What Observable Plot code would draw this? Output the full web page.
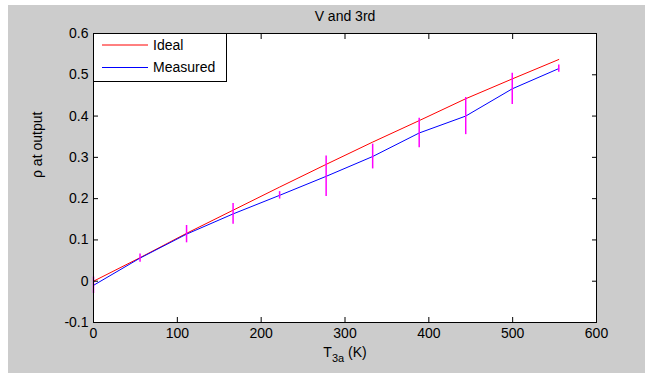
<!DOCTYPE html>
<html><head><meta charset="utf-8">
<script src="https://cdn.jsdelivr.net/npm/d3@7"></script>
<script src="https://cdn.jsdelivr.net/npm/@observablehq/plot@0.6"></script>
<style>
body{margin:0;background:#fff;}
#wrap{position:absolute;left:8px;top:5px;width:637px;height:368px;background:#cccccc;}
#legend{position:absolute;left:85px;top:28px;}
</style>
</head><body><div id="wrap"></div>
<script>
const T = [0, 55.5, 111, 166.5, 222, 277.5, 333, 388.5, 444, 499.5, 555];
const ideal = [0.0, 0.057, 0.116, 0.172, 0.228, 0.283, 0.337, 0.389, 0.442, 0.490, 0.537];
const measured = [-0.010, 0.056, 0.114, 0.163, 0.208, 0.254, 0.302, 0.359, 0.400, 0.466, 0.515];
const err = [0.020, 0.010, 0.021, 0.025, 0.009, 0.049, 0.030, 0.036, 0.045, 0.038, 0.009];
const xTicks = [0, 100, 200, 300, 400, 500, 600];
const yTicks = [-0.1, 0, 0.1, 0.2, 0.3, 0.4, 0.5, 0.6];
const title = "V and 3rd";
const xLabelMain = "T", xLabelSub = "3a", xLabelRest = " (K)";
const yLabel = "ρ at output";
const seriesNames = ["Ideal", "Measured"];
const seriesColors = ["#ff0000", "#0000ff"];
const errColor = "#ff00ff";

const rows = T.map((t, i) => ({t, ideal: ideal[i], measured: measured[i], lo: measured[i] - err[i], hi: measured[i] + err[i]}));
const xLabel = xLabelMain + xLabelSub + xLabelRest;
const font = "'Liberation Sans', Arial, Helvetica, sans-serif";
const fmt = d => String(+(+d).toFixed(1));
const blank = () => "";

const chart = Plot.plot({
  width: 637, height: 368,
  marginLeft: 85, marginRight: 49, marginTop: 28, marginBottom: 51,
  x: {domain: [0, 600]},
  y: {domain: [-0.1, 0.6]},
  style: {background: "transparent", fontFamily: font, fontSize: "14px", color: "#000"},
  marks: [
    Plot.frame({fill: "white", stroke: null}),
    Plot.line(rows, {x: "t", y: "ideal", stroke: seriesColors[0], strokeWidth: 1}),
    Plot.line(rows, {x: "t", y: "measured", stroke: seriesColors[1], strokeWidth: 1}),
    Plot.ruleX(rows, {x: "t", y1: "lo", y2: "hi", stroke: errColor, strokeWidth: 1.5}),
    Plot.axisX({anchor: "bottom", ticks: xTicks, tickSize: 0, tickPadding: 6, tickFormat: fmt, label: null, fontSize: 14}),
    Plot.axisX({anchor: "bottom", ticks: xTicks, tickSize: 5, insetBottom: 5, tickFormat: blank, label: null}),
    Plot.axisX({anchor: "top", ticks: xTicks, tickSize: 5, insetTop: 5, tickFormat: blank, label: null}),
    Plot.axisY({anchor: "left", ticks: yTicks, tickSize: 0, tickPadding: 5, tickFormat: fmt, label: null, fontSize: 14}),
    Plot.axisY({anchor: "left", ticks: yTicks, tickSize: 5, insetLeft: 5, tickFormat: blank, label: null}),
    Plot.axisY({anchor: "right", ticks: yTicks, tickSize: 5, insetRight: 5, tickFormat: blank, label: null}),
    Plot.frame({stroke: "black", strokeWidth: 1}),
    Plot.text([title], {text: d => d, frameAnchor: "top", dy: -17, lineAnchor: "middle", fontSize: 14}),
    Plot.text([yLabel], {text: d => d, frameAnchor: "left", dx: -56, rotate: -90, lineAnchor: "middle", fontSize: 14}),
    Plot.text([xLabel], {text: d => d, frameAnchor: "bottom", dy: 30, lineAnchor: "middle", fontSize: 14})
  ]
});

// subscript for x label
const ns = "http://www.w3.org/2000/svg";
const xl = [...chart.querySelectorAll("text")].find(t => t.textContent === xLabel);
if (xl) {
  xl.textContent = "";
  const a = document.createElementNS(ns, "tspan"); a.textContent = xLabelMain;
  const b = document.createElementNS(ns, "tspan"); b.textContent = xLabelSub; b.setAttribute("dy", "5"); b.setAttribute("font-size", "11");
  const c = document.createElementNS(ns, "tspan"); c.textContent = xLabelRest; c.setAttribute("dy", "-5");
  xl.append(a, b, c);
}
document.getElementById("wrap").appendChild(chart);

// legend overlay
const lg = d3.select("#wrap").append("svg").attr("id", "legend").attr("width", 134).attr("height", 49)
  .style("font-family", font).style("font-size", "14px");
lg.append("rect").attr("x", 0.5).attr("y", 0.5).attr("width", 133).attr("height", 48).attr("fill", "white").attr("stroke", "black");
seriesNames.forEach((name, i) => {
  const cy = 12 + i * 22.5;
  lg.append("line").attr("x1", 9).attr("x2", 55).attr("y1", cy).attr("y2", cy).attr("stroke", seriesColors[i]).attr("stroke-width", 1);
  lg.append("text").attr("x", 60).attr("y", cy).attr("dy", "0.35em").text(name);
});
</script>
</body></html>
